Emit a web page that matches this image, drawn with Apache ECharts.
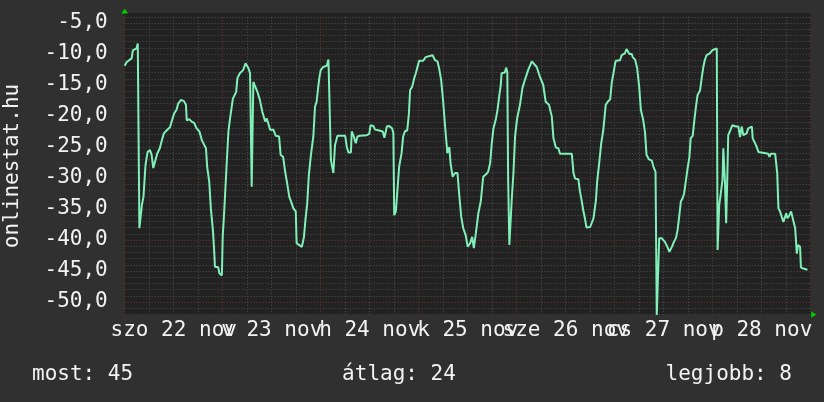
<!DOCTYPE html>
<html>
<head>
<meta charset="utf-8">
<script src="https://cdn.jsdelivr.net/npm/echarts@6/dist/echarts.min.js"></script>
<style>
html,body{margin:0;padding:0;background:#303030;}
#c{width:824px;height:402px;}
</style>
</head>
<body>
<div id="c"></div>
<script>
// time in hours since szo 22 nov 00:00
const hours = [0.0,0.5,1.7,2.0,2.9,3.2,3.5,3.6,3.9,4.2,4.6,4.8,5.1,5.6,6.2,6.6,7.0,7.4,8.0,8.6,9.1,9.6,10.3,11.1,11.5,12.1,12.7,13.1,13.8,14.5,15.0,15.2,15.8,16.4,17.0,17.6,18.3,18.9,19.5,19.9,20.2,20.7,21.1,21.6,21.9,22.1,22.9,23.2,23.8,24.0,24.3,24.6,25.0,25.4,25.8,26.5,27.3,27.6,28.2,29.0,29.6,30.3,30.7,31.1,31.5,31.9,32.5,33.1,33.7,34.4,34.8,35.2,35.6,36.4,37.0,37.8,38.2,38.8,39.3,39.8,40.3,40.9,41.3,41.9,42.1,42.7,43.4,43.9,44.3,44.7,45.1,45.6,46.2,46.6,47.0,47.4,47.7,48.0,48.6,49.5,49.9,50.3,50.5,51.1,51.5,52.1,54.0,54.4,54.8,55.4,55.6,56.0,56.6,57.0,57.6,59.3,59.9,60.2,60.9,61.3,62.1,62.5,63.2,63.6,64.2,64.8,65.5,65.8,66.0,66.4,66.8,67.2,67.6,67.8,68.2,68.6,69.2,69.6,69.9,70.4,70.9,71.3,71.7,72.1,73.1,73.7,74.1,75.4,76.0,76.6,77.0,77.5,78.0,78.4,78.9,79.0,79.5,79.8,80.3,80.9,81.5,81.9,82.4,82.9,83.5,84.0,84.6,85.1,85.5,86.0,86.6,87.2,87.8,88.5,89.0,89.5,89.9,90.3,90.9,91.3,91.7,92.1,92.3,93.1,93.4,93.7,93.9,94.2,94.5,94.8,95.2,95.6,96.1,96.8,97.4,98.0,98.8,99.7,100.1,100.9,101.7,102.5,103.1,103.9,104.6,105.0,105.6,106.2,106.6,109.5,109.9,110.3,111.1,111.5,111.9,112.3,112.7,113.1,114.0,114.4,114.8,115.4,115.7,116.2,116.7,117.2,117.8,118.3,118.9,119.3,119.7,120.1,120.3,121.3,121.7,122.5,122.9,123.6,124.2,124.4,125.0,125.5,126.0,126.4,127.0,127.4,127.8,128.4,129.1,129.5,130.0,130.3,130.7,130.9,131.5,132.3,132.9,133.4,134.0,134.5,135.0,135.4,135.8,136.2,136.6,137.0,137.4,137.8,138.3,138.6,139.1,139.5,139.9,140.3,140.9,141.3,141.7,142.1,142.5,143.3,143.9,145.0,145.2,145.6,146.0,146.4,146.6,147.0,147.3,147.6,147.8,148.2,148.8,149.7,150.3,150.7,151.1,151.5,152.3,152.7,153.6,153.8,154.6,155.2,155.6,157.6,157.9,158.2,159.3,159.8,160.1,160.5,160.9,161.3,162.0,162.3,162.8,163.2,163.6,164.2,164.6,164.9,165.4,165.6,166.2,167.2];
const values = [-11.9,-11.3,-10.7,-9.4,-9.1,-8.3,-8.2,-38.1,-38.1,-34.4,-33.0,-30.9,-27.9,-25.8,-25.5,-26.3,-28.4,-27.4,-26.0,-25.2,-23.9,-22.8,-22.3,-21.8,-20.9,-19.6,-19.0,-18.0,-17.4,-17.6,-18.2,-20.7,-20.5,-20.9,-21.1,-22.0,-22.5,-23.9,-24.7,-25.2,-28.2,-30.6,-34.9,-38.4,-41.6,-44.3,-44.4,-45.4,-45.7,-39.5,-36.2,-32.5,-27.4,-22.5,-20.4,-17.2,-16.1,-13.9,-13.1,-12.6,-11.5,-12.3,-13.1,-31.4,-14.5,-14.7,-16.1,-17.4,-19.3,-20.9,-20.4,-20.4,-22.2,-22.2,-23.2,-23.3,-26.3,-26.6,-29.0,-30.9,-33.0,-34.1,-34.9,-35.4,-40.5,-40.8,-41.1,-39.5,-36.5,-34.1,-29.5,-26.3,-23.3,-18.5,-17.7,-15.3,-13.7,-12.6,-12.1,-11.9,-10.9,-10.9,-27.1,-29.2,-24.7,-23.2,-23.2,-25.0,-25.9,-25.9,-22.5,-23.1,-24.4,-23.3,-23.2,-23.1,-22.9,-21.5,-21.6,-22.2,-22.3,-22.5,-22.5,-23.5,-21.7,-21.6,-22.0,-22.8,-36.0,-35.4,-31.9,-28.2,-27.9,-26.0,-23.3,-22.5,-22.3,-19.6,-15.8,-15.3,-13.9,-13.1,-12.1,-11.1,-11.1,-10.5,-10.2,-10.2,-11.0,-11.2,-12.3,-14.2,-17.7,-21.2,-25.0,-26.0,-25.0,-27.6,-29.8,-29.2,-29.2,-32.5,-36.2,-38.1,-39.2,-41.1,-40.5,-39.5,-41.3,-38.9,-35.7,-33.8,-29.8,-29.4,-29.0,-27.6,-24.4,-22.0,-20.5,-19.0,-16.9,-15.0,-13.1,-13.0,-12.2,-12.9,-30.1,-40.8,-40.8,-33.3,-29.2,-23.3,-20.4,-18.2,-15.5,-14.2,-12.6,-11.2,-11.1,-12.1,-13.7,-15.0,-17.7,-18.2,-20.1,-23.6,-25.1,-25.2,-26.1,-26.1,-29.2,-30.1,-30.2,-32.2,-33.6,-35.2,-36.5,-38.0,-37.9,-37.9,-36.5,-33.6,-30.6,-27.6,-24.4,-22.3,-18.2,-17.7,-17.3,-14.5,-13.1,-11.5,-11.1,-11.0,-10.2,-9.9,-9.2,-10.0,-10.0,-10.5,-10.9,-12.3,-15.3,-19.0,-20.7,-22.5,-26.3,-27.0,-27.2,-28.2,-29.0,-52.1,-52.1,-39.7,-39.7,-40.3,-41.1,-41.9,-41.1,-40.3,-39.7,-38.4,-36.2,-33.8,-33.3,-32.5,-30.6,-28.7,-26.6,-23.6,-23.2,-20.7,-18.5,-16.6,-15.9,-13.9,-12.1,-10.9,-10.2,-9.9,-9.4,-9.1,-41.6,-34.4,-34.1,-30.3,-25.2,-30.6,-37.3,-29.2,-23.1,-22.5,-21.5,-21.7,-21.7,-23.4,-21.7,-23.1,-22.8,-22.0,-21.7,-23.6,-24.7,-25.8,-26.0,-26.1,-26.6,-26.1,-26.1,-29.2,-34.9,-35.4,-35.7,-37.1,-35.7,-36.5,-36.0,-35.4,-36.5,-38.1,-42.2,-40.8,-41.1,-44.4,-44.6,-44.8];
// day labels, centred at noon of each day
const xDayLabels = ['szo 22 nov','v 23 nov','h 24 nov','k 25 nov','sze 26 nov','cs 27 nov','p 28 nov'];
const yLabelStep = 5;
const yTitle = 'onlinestat.hu';
const footer = ['most: 45', 'átlag: 24', 'legjobb: 8'];

const FONT = 'DejaVu Sans Mono';
const GRAY = '#4e4e4e';
const RED = '#6c3333';
const chart = echarts.init(document.getElementById('c'), null, {renderer:'canvas'});
const data = hours.map((h,i)=>[h, values[i]]);

chart.setOption({
  animation: false,
  backgroundColor: '#303030',
  grid: {left: 124.7, right: 13.3, top: 16.8, bottom: 87.6, containLabel: false, outerBoundsMode: 'none', show: false},
  xAxis: {
    type: 'value', min: 0, max: 168, interval: 6,
    axisLine: {show: false}, axisTick: {show: false},
    axisLabel: {
      color: '#f2f2f2', fontFamily: FONT, fontSize: 21, margin: 6, hideOverlap: false,
      showMinLabel: true, showMaxLabel: true,
      formatter: v => (v % 24 === 12) ? xDayLabels[(v - 12) / 24] : ''
    },
    splitLine: {show: true, lineStyle: {color: [RED, GRAY, GRAY, GRAY], width: 1, type: [1, 2]}}
  },
  yAxis: {
    type: 'value', min: -52, max: -4, interval: 1,
    axisLine: {show: false}, axisTick: {show: false},
    axisLabel: {
      color: '#f2f2f2', fontFamily: FONT, fontSize: 21, margin: 17, hideOverlap: false,
      formatter: v => (Math.round(v) % yLabelStep === 0) ? v.toFixed(1).replace('.', ',') : ''
    },
    splitLine: {show: true, lineStyle: {color: [GRAY, GRAY, RED, GRAY, GRAY, GRAY, GRAY, GRAY, GRAY, GRAY], width: 1, type: [1, 2]}}
  },
  graphic: [
    {type: 'rect', z: -100, silent: true, shape: {x: 124.5, y: 13, width: 686.5, height: 302}, style: {fill: '#222222'}},
    {type: 'polygon', z: 100, shape: {points: [[124.7, 8.5], [121.3, 13.5], [128.1, 13.5]]}, style: {fill: '#00cc00'}},
    {type: 'polygon', z: 100, shape: {points: [[816.5, 314.6], [811.2, 311.4], [811.2, 317.8]]}, style: {fill: '#00cc00'}},
    {type: 'text', x: 12.5, y: 166, rotation: Math.PI / 2, style: {text: yTitle, fill: '#f2f2f2', font: '21px "DejaVu Sans Mono"', textAlign: 'center', textVerticalAlign: 'middle'}},
    {type: 'text', x: 32, y: 375, style: {text: footer[0], fill: '#f2f2f2', font: '21px "DejaVu Sans Mono"', textAlign: 'left', textVerticalAlign: 'middle'}},
    {type: 'text', x: 399, y: 375, style: {text: footer[1], fill: '#f2f2f2', font: '21px "DejaVu Sans Mono"', textAlign: 'center', textVerticalAlign: 'middle'}},
    {type: 'text', x: 792, y: 375, style: {text: footer[2], fill: '#f2f2f2', font: '21px "DejaVu Sans Mono"', textAlign: 'right', textVerticalAlign: 'middle'}}
  ],
  series: [{
    type: 'line', data: data, showSymbol: false, clip: false,
    lineStyle: {color: '#80f0b8', width: 2}, itemStyle: {color: '#80f0b8'}
  }]
});
</script>
</body>
</html>
